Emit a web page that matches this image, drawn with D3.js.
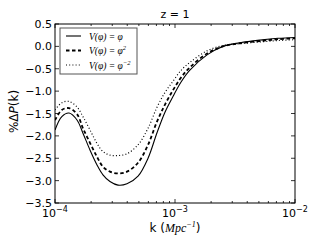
<!DOCTYPE html>
<html>
<head>
<meta charset="utf-8">
<script src="https://cdn.jsdelivr.net/npm/d3@7"></script>
<style>
  body { margin: 0; background: #fff; }
  svg { display: block; }
  text { font-family: "DejaVu Sans", sans-serif; fill: #000; }
  .math { font-family: "Liberation Serif", "DejaVu Serif", serif; font-style: italic; }
</style>
</head>
<body>
<svg id="chart" width="327" height="245"></svg>
<script>
// wavenumbers k (Mpc^-1)
const kValues = [1.00e-4, 1.14e-4, 1.31e-4, 1.53e-4, 1.71e-4, 1.96e-4, 2.24e-4, 2.51e-4,
  2.87e-4, 3.35e-4, 3.98e-4, 4.92e-4, 5.96e-4, 7.08e-4, 8.25e-4, 9.62e-4, 1.12e-3,
  1.33e-3, 1.85e-3, 2.51e-3, 3.48e-3, 5.11e-3, 7.21e-3, 1.00e-2];

// %ΔP(k) for each potential
const linearPhi = [-1.87, -1.57, -1.49, -1.65, -1.94, -2.32, -2.65, -2.87, -3.02, -3.1, -3.07,
  -2.9, -2.5, -1.93, -1.47, -1.12, -0.8, -0.53, -0.19, 0.0, 0.08, 0.14, 0.18, 0.2];
const squarePhi = [-1.65, -1.42, -1.38, -1.52, -1.83, -2.16, -2.47, -2.69, -2.8, -2.84, -2.8,
  -2.6, -2.2, -1.68, -1.3, -0.98, -0.7, -0.47, -0.16, 0.0, 0.07, 0.12, 0.16, 0.18];
const inverseSquarePhi = [-1.42, -1.26, -1.23, -1.36, -1.57, -1.87, -2.17, -2.35, -2.43, -2.44, -2.4,
  -2.2, -1.83, -1.36, -1.03, -0.78, -0.54, -0.36, -0.1, 0.02, 0.06, 0.1, 0.13, 0.15];

const xTicks = [1e-4, 1e-3, 1e-2];
const xTickExponents = ['-4', '-3', '-2'];
const yTicks = [0.5, 0.0, -0.5, -1.0, -1.5, -2.0, -2.5, -3.0, -3.5];

const series = [
  { values: linearPhi, dash: null, width: 1.1, label: 'φ', sup: '' },
  { values: squarePhi, dash: '3.5,2.5', width: 1.8, label: 'φ', sup: '2' },
  { values: inverseSquarePhi, dash: '1,2.2', width: 1.2, label: 'φ', sup: '−2' }
];

const margin = { left: 55, top: 24, right: 32, bottom: 42 };
const width = 327 - margin.left - margin.right;
const height = 245 - margin.top - margin.bottom;

const svg = d3.select('#chart');
const g = svg.append('g').attr('transform', `translate(${margin.left},${margin.top})`);

const x = d3.scaleLog().domain([1e-4, 1e-2]).range([0, width]);
const y = d3.scaleLinear().domain([-3.5, 0.5]).range([height, 0]);

// curves
const line = d3.line()
  .x(d => x(d[0]))
  .y(d => y(d[1]))
  .curve(d3.curveCatmullRom.alpha(0.5));

g.append('clipPath').attr('id', 'clip')
  .append('rect').attr('width', width).attr('height', height);

series.forEach(s => {
  g.append('path')
    .datum(kValues.map((k, i) => [k, s.values[i]]))
    .attr('clip-path', 'url(#clip)')
    .attr('d', line)
    .attr('fill', 'none')
    .attr('stroke', '#000')
    .attr('stroke-width', s.width)
    .attr('stroke-dasharray', s.dash);
});

// ticks pointing inward on all four sides
const minorTicks = [];
[1e-4, 1e-3].forEach(base => {
  for (let m = 2; m <= 9; m++) minorTicks.push(base * m);
});

const tickG = g.append('g').attr('stroke', '#000').attr('stroke-width', 0.8);
xTicks.forEach(t => {
  tickG.append('line').attr('x1', x(t)).attr('x2', x(t)).attr('y1', height).attr('y2', height - 4);
  tickG.append('line').attr('x1', x(t)).attr('x2', x(t)).attr('y1', 0).attr('y2', 4);
});
minorTicks.forEach(t => {
  tickG.append('line').attr('x1', x(t)).attr('x2', x(t)).attr('y1', height).attr('y2', height - 2);
  tickG.append('line').attr('x1', x(t)).attr('x2', x(t)).attr('y1', 0).attr('y2', 2);
});
yTicks.forEach(t => {
  tickG.append('line').attr('x1', 0).attr('x2', 4).attr('y1', y(t)).attr('y2', y(t));
  tickG.append('line').attr('x1', width).attr('x2', width - 4).attr('y1', y(t)).attr('y2', y(t));
});

// frame
g.append('rect')
  .attr('width', width).attr('height', height)
  .attr('fill', 'none').attr('stroke', '#000').attr('stroke-width', 1);

// y tick labels
yTicks.forEach(t => {
  g.append('text')
    .attr('x', -3)
    .attr('y', y(t) + 4)
    .attr('text-anchor', 'end')
    .attr('font-size', 11)
    .text(d3.format('.1f')(t).replace('-', '−'));
});

// x tick labels 10^n
xTicks.forEach((t, i) => {
  const txt = g.append('text')
    .attr('x', x(t))
    .attr('y', height + 14)
    .attr('text-anchor', 'middle')
    .attr('font-size', 11);
  txt.append('tspan').text('10');
  txt.append('tspan').attr('dy', -5).attr('font-size', 8).text(xTickExponents[i].replace('-', '−'));
});

// axis labels
const xl = svg.append('text')
  .attr('x', margin.left + width / 2)
  .attr('y', 232)
  .attr('text-anchor', 'middle')
  .attr('font-size', 12);
xl.append('tspan').text('k (');
xl.append('tspan').attr('class', 'math').text('Mpc');
xl.append('tspan').attr('class', 'math').attr('dy', -5).attr('font-size', 8).text('−1');
xl.append('tspan').attr('dy', 5).text(')');

const yl = svg.append('text')
  .attr('transform', `translate(18,${margin.top + height / 2 - 2}) rotate(-90)`)
  .attr('text-anchor', 'middle')
  .attr('font-size', 12)
  .attr('font-family', '"Liberation Serif", serif');
yl.append('tspan').text('%Δ');
yl.append('tspan').attr('font-style', 'italic').text('P');
yl.append('tspan').text('(k)');

// title
svg.append('text')
  .attr('x', margin.left + width / 2)
  .attr('y', 18)
  .attr('text-anchor', 'middle')
  .attr('font-size', 11)
  .text('z = 1');

// legend
const legend = g.append('g').attr('transform', 'translate(5,4)');
legend.append('rect')
  .attr('width', 77).attr('height', 46)
  .attr('fill', '#fff').attr('stroke', '#555').attr('stroke-width', 1);
series.forEach((s, i) => {
  const yy = 8 + i * 14.5;
  legend.append('line')
    .attr('x1', 6).attr('x2', 21).attr('y1', yy).attr('y2', yy)
    .attr('stroke', '#000')
    .attr('stroke-width', s.width)
    .attr('stroke-dasharray', s.dash);
  const t = legend.append('text')
    .attr('x', 29).attr('y', yy + 3.5)
    .attr('class', 'math')
    .attr('font-size', 9.5);
  t.append('tspan').text(`V(φ) = ${s.label}`);
  if (s.sup) t.append('tspan').attr('dy', -4).attr('font-size', 6.5).text(s.sup);
});
</script>
</body>
</html>
